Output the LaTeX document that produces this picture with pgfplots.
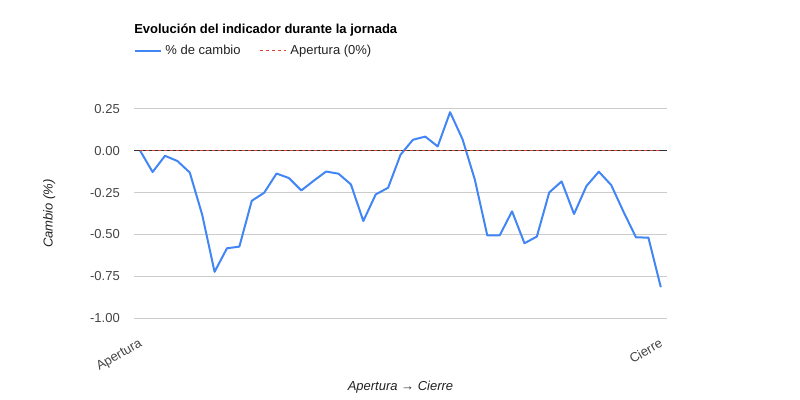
\documentclass[border=0pt]{standalone}
\usepackage{pgfplots}
\pgfplotsset{compat=1.18}
\usepackage{fontspec}
\setmainfont{Liberation Sans}
\definecolor{gblue}{HTML}{4285F4}
\definecolor{gred}{HTML}{DB4437}
\definecolor{ggrid}{HTML}{CCCCCC}
\definecolor{gtick}{HTML}{444444}
\definecolor{gtext}{HTML}{222222}
\begin{document}
\begin{tikzpicture}
\path[use as bounding box] (0pt,0pt) rectangle (600pt,300pt);
\begin{axis}[
  at={(100.5pt,61.5pt)}, anchor=south west,
  scale only axis, width=399.75pt, height=156.75pt,
  xmin=-0.5, xmax=42.5, ymin=-1, ymax=0.25,
  axis line style={draw=none},
  major tick length=0pt,
  xtick={0,42}, xticklabels={Apertura,Cierre},
  ytick={-1,-0.75,-0.5,-0.25,0,0.25},
  yticklabel={\pgfmathprintnumber[fixed,fixed zerofill,precision=2]{\tick}},
  /pgf/number format/assume math mode=true,
  ymajorgrids, grid style={ggrid, line width=0.75pt},
  extra y ticks={0}, extra y tick labels={},
  extra y tick style={grid style={black!80, line width=0.75pt}},
  tick label style={font=\fontsize{9.75}{11.7}\selectfont, text=gtick},
  yticklabel style={anchor=east, inner sep=0pt, xshift=-10.5pt},
  xticklabel style={xshift=-1.5pt, yshift=-14.7pt, rotate=30, anchor=north east, inner sep=0pt},
  xlabel={\textit{Apertura → Cierre}},
  ylabel={\textit{Cambio (\%)}},
  label style={font=\fontsize{9.75}{11.7}\selectfont, text=gtext},
  xlabel style={at={(axis description cs:0.5,-0.3445)}, anchor=base, inner sep=0pt},
  ylabel style={at={(axis description cs:-0.159,0.5)}, anchor=center, inner sep=0pt},
  every axis title shift=0pt,
  title={\textbf{Evolución del indicador durante la jornada}},
  title style={at={(axis description cs:0,1.361)}, anchor=base west, inner sep=0pt, font=\fontsize{9.75}{11.7}\selectfont, text=black},
  legend columns=2,
  legend style={draw=none, fill=none, at={(axis description cs:0,1.278)}, anchor=west,
    inner sep=0pt, outer sep=0pt,
    font=\fontsize{9.75}{11.7}\selectfont, text=gtext,
    nodes={inner sep=0pt},
    /tikz/every odd column/.append style={column sep=2.6pt},
    /tikz/every even column/.append style={column sep=14.5pt}},
  legend cell align=left,
  legend image code/.code={\draw[#1] (0pt,0pt) -- (19.5pt,0pt);},
]
\addplot[gblue, line width=1.5pt, line join=round] table {
x y
0 0.000
1 -0.127
2 -0.030
3 -0.061
4 -0.130
5 -0.382
6 -0.724
7 -0.583
8 -0.573
9 -0.299
10 -0.251
11 -0.136
12 -0.163
13 -0.237
14 -0.179
15 -0.124
16 -0.137
17 -0.201
18 -0.420
19 -0.261
20 -0.221
21 -0.024
22 0.066
23 0.085
24 0.026
25 0.231
26 0.070
27 -0.173
28 -0.506
29 -0.506
30 -0.362
31 -0.553
32 -0.513
33 -0.249
34 -0.183
35 -0.378
36 -0.211
37 -0.125
38 -0.205
39 -0.366
40 -0.518
41 -0.519
42 -0.816
};
\addlegendentry{\% de cambio}
\addplot[gred, line width=0.75pt, dash pattern=on 2.25pt off 2.25pt] table {
x y
0 0
42 0
};
\addlegendentry{Apertura (0\%)}
\end{axis}
\end{tikzpicture}
\end{document}
